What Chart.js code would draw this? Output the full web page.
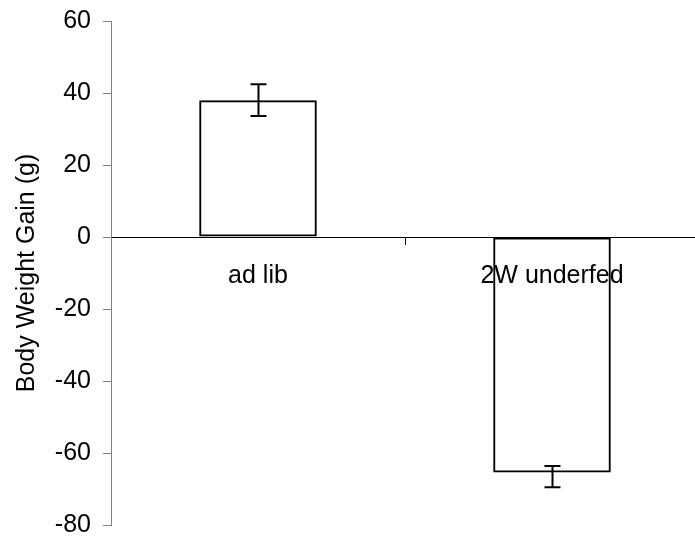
<!DOCTYPE html>
<html>
<head>
<meta charset="utf-8">
<script src="https://cdn.jsdelivr.net/npm/chart.js@4"></script>
<style>
  html, body { margin: 0; padding: 0; background: #fff; overflow: hidden; }
  #wrap { width: 700px; height: 543px; }
</style>
</head>
<body>
<div id="wrap"><canvas id="gain"></canvas></div>
<script>
var groups = ["ad lib", "2W underfed"];
var gain = [38, -65.4];
var errUp = [4.4, 1.8];
var errDown = [4.4, 4.1];
var yTicks = [-80, -60, -40, -20, 0, 20, 40, 60];

// draws the error bars on top of the bars
var errorBars = {
  id: "errorBars",
  afterDatasetsDraw: function (chart) {
    var c = chart.ctx;
    var y = chart.scales.y;
    var meta = chart.getDatasetMeta(0);
    c.save();
    c.strokeStyle = "#000";
    c.lineWidth = 2;
    meta.data.forEach(function (bar, i) {
      var x = Math.round(bar.x) + 0.5;
      var top = y.getPixelForValue(gain[i] + errUp[i]);
      var bot = y.getPixelForValue(gain[i] - errDown[i]);
      c.beginPath();
      c.moveTo(x, top);
      c.lineTo(x, bot);
      c.moveTo(x - 8, top);
      c.lineTo(x + 8, top);
      c.moveTo(x - 8, bot);
      c.lineTo(x + 8, bot);
      c.stroke();
    });
    c.restore();
  }
};

Chart.defaults.font.family = "'Liberation Sans', Arial, sans-serif";
Chart.defaults.font.size = 25;
Chart.defaults.color = "#000";

var ctx = document.getElementById("gain").getContext("2d");
var chart = new Chart(ctx, {
  type: "bar",
  data: {
    labels: groups,
    datasets: [
      {
        label: "Body Weight Gain",
        data: gain,
        backgroundColor: "rgba(0,0,0,0)",
        borderColor: "#000",
        borderWidth: 2,
        borderSkipped: false,
        barPercentage: 0.4,
        categoryPercentage: 1
      }
    ]
  },
  options: {
    responsive: true,
    maintainAspectRatio: false,
    animation: false,
    layout: { padding: { top: 21, bottom: 18, left: 0, right: 1 } },
    plugins: { legend: { display: false }, tooltip: { enabled: false } },
    scales: {
      x: {
        position: { y: 0 },
        grid: {
          drawOnChartArea: false,
          drawTicks: true,
          tickLength: 7,
          color: "#000",
          offset: true
        },
        border: { color: "#000", width: 1 },
        ticks: { padding: 17, color: "#000" }
      },
      y: {
        min: -80,
        max: 60,
        // fixed axis width; end labels may run into the layout padding
        afterFit: function (s) {
          s.width = 111;
          s.paddingTop = 0;
          s.paddingBottom = 0;
        },
        afterBuildTicks: function (s) {
          s.ticks = yTicks.map(function (v) { return { value: v }; });
        },
        grid: {
          drawOnChartArea: false,
          drawTicks: true,
          tickLength: 8,
          color: "#808080"
        },
        border: { color: "#808080", width: 1 },
        ticks: { padding: 12, color: "#000" },
        title: {
          display: true,
          text: "Body Weight Gain (g)",
          color: "#000",
          font: { size: 25 },
          padding: { top: 12, bottom: 0 }
        }
      }
    }
  },
  plugins: [errorBars]
});
</script>
</body>
</html>
